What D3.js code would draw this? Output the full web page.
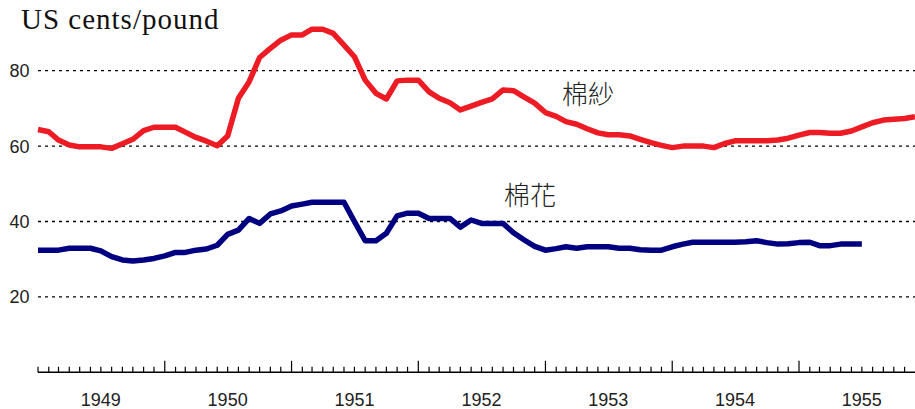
<!DOCTYPE html>
<html>
<head>
<meta charset="utf-8">
<script src="https://cdn.jsdelivr.net/npm/d3@7"></script>
<style>
  html, body { margin: 0; padding: 0; background: #fff; }
  svg { display: block; }
</style>
</head>
<body>
<svg id="chart" width="915" height="409"></svg>
<script>
// ---- data ----
const startMonth = "1949-01";           // first monthly observation
const yarn = [ // 棉紗, US cents/pound, monthly
  64.4, 63.8, 61.6, 60.3, 59.8, 59.8, 59.8, 59.4, 60.6, 61.8, 64.1, 65.0,
  65.0, 65.0, 63.7, 62.3, 61.3, 60.1, 62.7, 72.7, 77.1, 83.5, 85.9, 88.1,
  89.5, 89.5, 91.0, 91.0, 89.9, 86.8, 83.7, 77.5, 74.0, 72.5, 77.3, 77.5,
  77.5, 74.4, 72.7, 71.5, 69.6, 70.6, 71.6, 72.5, 74.9, 74.7, 73.0, 71.4,
  68.9, 67.9, 66.5, 65.8, 64.6, 63.5, 63.0, 63.0, 62.7, 61.8, 60.9, 60.2,
  59.6, 60.0, 60.0, 60.0, 59.6, 60.7, 61.4, 61.4, 61.4, 61.4, 61.6, 62.1,
  62.9, 63.6, 63.6, 63.4, 63.4, 64.0, 65.1, 66.2, 66.9, 67.1, 67.3, 67.8
];
const cotton = [ // 棉花, US cents/pound, monthly
  32.4, 32.4, 32.4, 32.9, 32.9, 32.9, 32.2, 30.7, 29.8, 29.5, 29.8, 30.2,
  30.9, 31.8, 31.8, 32.4, 32.7, 33.7, 36.6, 37.7, 40.8, 39.5, 42.0, 42.8,
  44.1, 44.6, 45.1, 45.1, 45.1, 45.1, 40.0, 34.9, 34.9, 36.9, 41.5, 42.2,
  42.2, 40.8, 40.8, 40.8, 38.5, 40.4, 39.5, 39.5, 39.5, 37.0, 35.1, 33.4,
  32.4, 32.8, 33.3, 32.9, 33.3, 33.3, 33.3, 32.9, 32.9, 32.5, 32.4, 32.4,
  33.3, 34.0, 34.5, 34.5, 34.5, 34.5, 34.5, 34.6, 34.9, 34.4, 34.0, 34.1,
  34.4, 34.5, 33.6, 33.6, 34.0, 34.0, 34.0
];
const yearLabels = ["1949", "1950", "1951", "1952", "1953", "1954", "1955"];
const yTicks = [20, 40, 60, 80];
const seriesNames = ["棉紗", "棉花"];
const unitTitle = "US cents/pound";

// ---- layout ----
const svg = d3.select("#chart");
const parse = d3.timeParse("%Y-%m");
const t0 = parse(startMonth);
const monthDate = i => d3.timeMonth.offset(t0, i);

const x = d3.scaleTime()
  .domain([t0, monthDate(83)])
  .range([38, 915]);
const y = d3.scaleLinear()
  .domain([0, 100])
  .range([372.3, -4.7]);

// gridlines
svg.append("g").selectAll("line").data(yTicks).join("line")
  .attr("x1", 38).attr("x2", 915)
  .attr("y1", d => y(d)).attr("y2", d => y(d))
  .attr("stroke", "#000").attr("stroke-width", 1.3)
  .attr("stroke-dasharray", "3,4");

// y labels
svg.append("g").selectAll("text").data(yTicks).join("text")
  .attr("x", 29.5).attr("y", d => y(d) + 6.5)
  .attr("text-anchor", "end")
  .attr("font-family", "Liberation Sans, Arial, sans-serif")
  .attr("font-size", 18).attr("fill", "#222")
  .text(d => d);

// x axis
const axisG = svg.append("g");
axisG.append("line")
  .attr("x1", 38).attr("x2", 915)
  .attr("y1", y(0)).attr("y2", y(0))
  .attr("stroke", "#000").attr("stroke-width", 1.5);
const tickMonths = d3.range(0, 83);
axisG.selectAll("line.tick").data(tickMonths).join("line")
  .attr("class", "tick")
  .attr("x1", d => x(monthDate(d))).attr("x2", d => x(monthDate(d)))
  .attr("y1", y(0))
  .attr("y2", d => (d % 12 === 0 && d > 0) ? y(0) - 11.5 : y(0) - 5.5)
  .attr("stroke", "#000").attr("stroke-width", 1.2);
axisG.selectAll("text").data(yearLabels).join("text")
  .attr("x", d => x(d3.timeMonth.offset(parse(d + "-01"), 6)))
  .attr("y", 406)
  .attr("text-anchor", "middle")
  .attr("font-family", "Liberation Sans, Arial, sans-serif")
  .attr("font-size", 18).attr("fill", "#222")
  .text(d => d);

// lines
const line = d3.line()
  .x((d, i) => x(monthDate(i)))
  .y(d => y(d));
svg.append("path").datum(yarn)
  .attr("d", line).attr("fill", "none")
  .attr("stroke", "#ED1C24").attr("stroke-width", 5.5)
  .attr("stroke-linejoin", "round");
svg.append("path").datum(cotton)
  .attr("d", line).attr("fill", "none")
  .attr("stroke", "#000080").attr("stroke-width", 5.5)
  .attr("stroke-linejoin", "round");

// series labels
const labelPos = [[588, 95], [530, 196]];
svg.append("g").selectAll("text").data(seriesNames).join("text")
  .attr("x", (d, i) => labelPos[i][0]).attr("y", (d, i) => labelPos[i][1] + 9)
  .attr("text-anchor", "middle")
  .attr("font-family", "Noto Sans CJK TC, Noto Sans CJK JP, sans-serif")
  .attr("font-weight", 300)
  .attr("font-size", 26).attr("fill", "#222")
  .text(d => d);

// title
svg.append("text")
  .attr("x", 21).attr("y", 29)
  .attr("font-family", "Liberation Serif, Times New Roman, serif")
  .attr("font-size", 29).attr("fill", "#111")
  .attr("letter-spacing", 1)
  .text(unitTitle);
</script>
</body>
</html>
